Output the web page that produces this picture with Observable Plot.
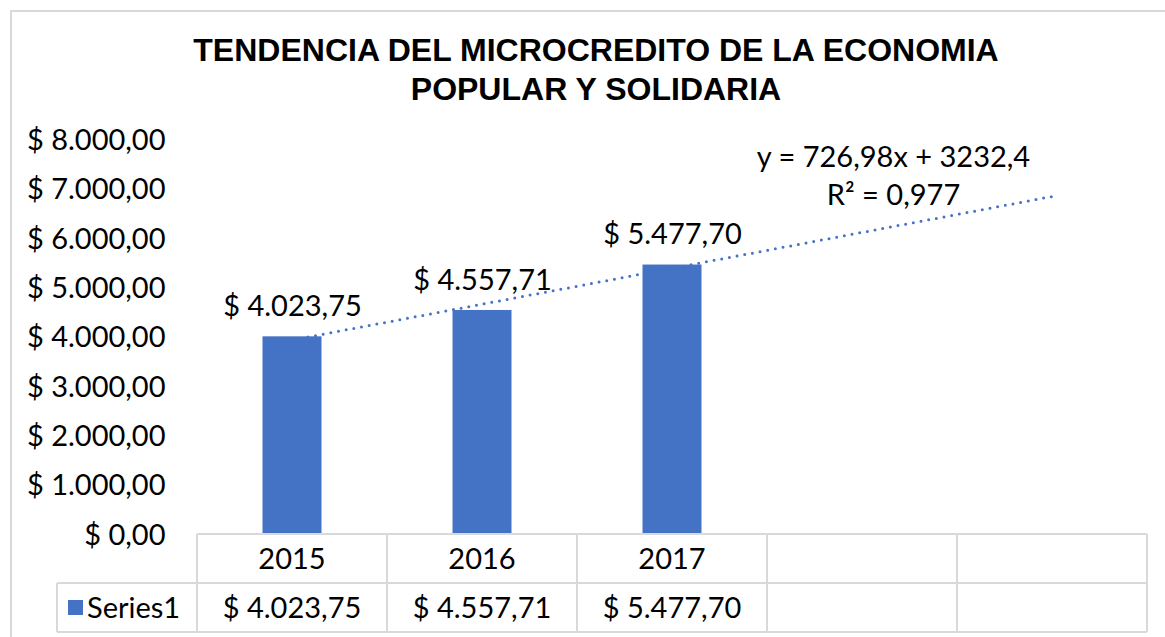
<!DOCTYPE html>
<html>
<head>
<meta charset="utf-8">
<script src="https://cdn.jsdelivr.net/npm/d3@7"></script>
<script src="https://cdn.jsdelivr.net/npm/@observablehq/plot@0.6"></script>
<style>
  html, body { margin: 0; padding: 0; background: #fff; }
  #wrap { position: relative; width: 1165px; height: 637px; overflow: hidden; font-family: Lato, "Open Sans", sans-serif; }
  #frame { position: absolute; left: 10px; top: 10px; width: 1200px; height: 700px; border: 2px solid #d9d9d9; }
  #title { position: absolute; left: 0; top: 31px; width: 1192px; text-align: center;
           font-family: "Liberation Sans", Arial, sans-serif; font-weight: bold; font-size: 32px; line-height: 39px; color: #000; }
  #chart { position: absolute; left: 0; top: 100px; }
  #table { position: absolute; left: 0; top: 0; pointer-events: none; }
</style>
</head>
<body>
<div id="wrap">
  <div id="frame"></div>
  <div id="title">TENDENCIA DEL MICROCREDITO DE LA ECONOMIA<br>POPULAR Y SOLIDARIA</div>
  <div id="chart"></div>
  <svg id="table" width="1165" height="637"></svg>
</div>
<script>
// ---- data ----
const categories = ["2015", "2016", "2017", "", ""];
const values = [4023.75, 4557.71, 5477.70, null, null];
const seriesName = "Series1";
const yTicks = [0, 1000, 2000, 3000, 4000, 5000, 6000, 7000, 8000];
const trendSlope = 726.98;
const trendIntercept = 3232.4;
const trendLabel = ["y = 726,98x + 3232,4", "R² = 0,977"];

// ---- helpers ----
const loc = d3.formatLocale({decimal: ",", thousands: ".", grouping: [3], currency: ["$ ", ""]});
const money = loc.format("$,.2f");
const blue = "#4472c4";
const fs = 29;
const idx = categories.map((_, i) => i);
const bars = idx.filter(i => values[i] != null).map(i => ({i, v: values[i]}));
const trend = [0, categories.length - 1].map(i => ({i, v: trendSlope * (i + 1) + trendIntercept}));
const trendEnd = trend[trend.length - 1];

const chart = Plot.plot({
  width: 1165,
  height: 437,
  marginLeft: 195,
  marginRight: 17,
  marginTop: 40,
  marginBottom: 2,
  style: {fontFamily: "Lato, 'Open Sans', sans-serif", fontSize: fs + "px", color: "#000", background: "transparent", overflow: "visible"},
  x: {type: "band", domain: idx, padding: 0, axis: null},
  y: {domain: [0, 8000], axis: null},
  marks: [
    Plot.axisY({ticks: yTicks, tickSize: 0, tickPadding: 30, tickFormat: money, fontSize: fs, fill: "#000", label: null}),
    Plot.barY(bars, {x: "i", y: "v", fill: blue, insetLeft: 65.5, insetRight: 65.5}),
    Plot.line(trend, {x: "i", y: "v", stroke: blue, strokeWidth: 3, strokeDasharray: "0 7.8", strokeLinecap: "round"}),
    Plot.text(bars, {x: "i", y: "v", text: d => money(d.v), dy: -30, fontSize: fs, fill: "#000"}),
    Plot.text([trendEnd], {x: "i", y: "v", text: () => trendLabel[0], dx: -159, dy: -39, fontSize: fs, fill: "#000"}),
    Plot.text([trendEnd], {x: "i", y: "v", text: () => trendLabel[1], dx: -159, dy: -1, fontSize: fs, fill: "#000"})
  ]
});
document.getElementById("chart").appendChild(chart);

// ---- data table under the chart, aligned with the x scale ----
const xs = chart.scale("x");
const step = xs.step;
const left0 = xs.apply(0);
const right = xs.apply(categories.length - 1) + step;
const tableLeft = 57;
const yTop = 534, yMid = 583, yBot = 632;
const grid = "#d9d9d9";
const svg = d3.select("#table");
const g = svg.append("g").attr("stroke", grid).attr("stroke-width", 2).attr("fill", "none");
g.append("line").attr("x1", left0).attr("x2", right).attr("y1", yTop).attr("y2", yTop);
g.append("line").attr("x1", tableLeft).attr("x2", right).attr("y1", yMid).attr("y2", yMid);
g.append("line").attr("x1", tableLeft).attr("x2", right).attr("y1", yBot).attr("y2", yBot);
g.append("line").attr("x1", tableLeft).attr("x2", tableLeft).attr("y1", yMid).attr("y2", yBot);
idx.concat([categories.length]).forEach(i => {
  const x = left0 + i * step;
  g.append("line").attr("x1", x).attr("x2", x).attr("y1", yTop).attr("y2", yBot);
});
const t = svg.append("g").attr("font-family", "Lato, 'Open Sans', sans-serif").attr("font-size", fs).attr("fill", "#000");
idx.forEach(i => {
  const cx = left0 + (i + 0.5) * step;
  t.append("text").attr("x", cx).attr("y", (yTop + yMid) / 2).attr("dy", "0.35em").attr("text-anchor", "middle").text(categories[i]);
  if (values[i] != null)
    t.append("text").attr("x", cx).attr("y", (yMid + yBot) / 2).attr("dy", "0.35em").attr("text-anchor", "middle").text(money(values[i]));
});
svg.append("rect").attr("x", 68).attr("y", 600).attr("width", 15).attr("height", 15).attr("fill", blue);
t.append("text").attr("x", 87).attr("y", (yMid + yBot) / 2).attr("dy", "0.35em").text(seriesName);
</script>
</body>
</html>
